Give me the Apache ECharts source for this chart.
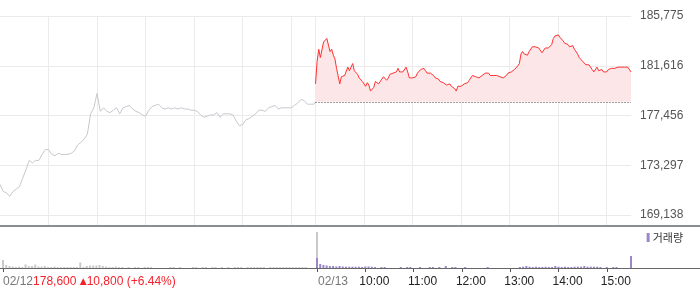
<!DOCTYPE html>
<html><head><meta charset="utf-8">
<script src="https://cdn.jsdelivr.net/npm/echarts@6/dist/echarts.min.js"></script>
<style>html,body{margin:0;padding:0;background:#fff}#c{width:700px;height:289px}</style>
</head><body><div id="c"></div>
<script>
// ---- data ----
const SESSION = 390;     // minutes from 09:00 to 15:30
const STEP1 = 4;         // 02/12 price sample spacing (minutes)
const STEP2 = 2;         // 02/13 price sample spacing (minutes)
const VOL_STEP = 4;      // volume sample spacing (minutes)
const day1Prices = [
171700,171100,171000,170700,171100,171300,171500,172200,172900,173700,
173500,173700,173700,174200,174600,174600,174200,174100,174300,174200,
174200,174200,174300,174500,175000,175200,175500,175900,177600,178100,
179300,177800,178100,177800,177700,177900,178100,177600,178100,178200,
178300,178000,177800,177700,177500,177400,177900,178200,178300,178400,
178100,178000,178100,178000,178100,178000,178100,178000,178000,177900,
177900,177800,177500,177300,177400,177500,177500,177700,177300,177600,
177600,177600,177500,177000,176600,176700,177100,177200,177400,177600,
177900,177900,177800,178100,178200,178300,178000,178100,178100,178100,
178100,178300,178500,178800,178700,178400,178400,178400,178600];
const day2Prices = [
180100,182000,183000,182300,182200,183600,183700,183900,184000,182800,
183000,182500,182200,181400,181300,180100,180700,180800,180800,180900,
181500,181200,181500,181800,181200,181100,180900,180600,180500,180300,
180400,179900,180200,180000,179500,179600,179800,180300,180400,180100,
180100,180500,180700,180600,180400,180600,180900,180900,181000,181100,
181100,181400,181100,181000,181100,181200,181500,181100,180600,180600,
180600,180600,180700,181000,181100,181300,181400,181400,181200,181000,
180900,181000,180900,180800,180600,180600,180500,180300,180300,180200,
180100,180000,180100,180100,179900,180000,179700,179500,179900,179900,
179900,180000,180100,180100,180200,180400,180600,180800,180700,180700,
180600,180600,180600,180800,180900,181000,181100,181000,180800,180700,
180800,180700,180800,180700,180700,180600,180600,180500,180800,181000,
181000,181100,181200,181300,181400,181600,181800,182600,182800,182600,
182600,182500,182800,182900,183200,183200,183200,183200,183100,183200,
182700,182600,183100,183200,183100,183100,183400,183900,184100,184200,
184200,184000,184000,183700,183500,183400,183400,183200,183300,183300,
183000,183100,182600,182300,182300,182000,182100,181700,181600,181700,
181800,181300,181100,181100,181500,181200,181300,181300,181100,181200,
181100,181300,181200,181400,181500,181400,181500,181500,181500,181500,
181500,181500,181500,181500,181500,181100];
const day1Volume = [
800,300,200,150,100,150,100,350,200,200,
350,150,150,200,100,100,150,100,100,100,
100,100,100,100,550,100,200,250,250,250,
300,200,150,100,100,150,100,100,0,100,
0,100,100,0,100,100,100,0,0,0,
0,0,100,100,0,100,0,0,0,100,
100,0,100,100,0,100,100,0,100,0,
100,0,100,100,100,0,100,100,100,100,
100,100,0,100,100,100,100,100,100,100,
100,100,100,100,100,0,0,0,3600];
const day2Volume = [
1000,400,300,250,200,200,150,200,150,130,
130,130,130,130,100,150,150,130,100,0,
100,100,0,0,0,0,100,0,100,100,
0,0,100,0,0,100,100,0,100,0,
200,0,100,100,0,0,100,0,0,0,
0,0,0,100,0,0,0,0,0,0,
0,0,0,100,130,200,130,100,130,100,
100,130,100,100,200,130,100,130,100,100,
130,130,130,200,130,130,130,130,100,0,
100,0,100,100,0,0,0,0,1200];
const prevClose = 178600;
const yMin = 169138, yMax = 185775, yTickStep = 4159.25;
const volMax = 4200;
const gridMinutes = [60,120,180,240,300,360,390,450,510,570,630,690,750];
const tickMinutes = [0,390,450,510,570,630,690,750];
const tickLabels = ['02/12','02/13','10:00','11:00','12:00','13:00','14:00','15:00'];
const dayInfoPrice = '178,600';
const dayInfoChange = '10,800 (+6.44%)';
const volumeName = '거래량';

// ---- build series ----
const minuteOf = (i, step, offset) => offset + Math.min(i * step, SESSION);
const p1 = day1Prices.map((v, i) => [minuteOf(i, STEP1, 0), v]);
const p2 = day2Prices.map((v, i) => [minuteOf(i, STEP2, SESSION), v]);
const v1 = day1Volume.map((v, i) => [minuteOf(i, VOL_STEP, 0), v]);
const v2 = day2Volume.map((v, i) => [minuteOf(i, VOL_STEP, SESSION), v]);

function fmtPrice(v) {
  let r = Math.round(v);
  if (Math.abs(v - Math.floor(v) - 0.5) < 1e-6 && r % 2 !== 0) r -= 1; // half-even
  return r.toLocaleString('en-US');
}

const GRID = '#ebebeb';
const FONT = '"Liberation Sans", Arial, sans-serif';
const chart = echarts.init(document.getElementById('c'), null, {renderer: 'canvas'});
chart.setOption({
  animation: false,
  textStyle: {fontFamily: FONT},
  grid: [
    {left: 0, width: 631, top: 16, height: 199},
    {left: 0, width: 631, top: 226, height: 42}
  ],
  legend: {
    data: [volumeName], right: 17, top: 232, padding: 0, icon: 'rect', itemWidth: 3, itemHeight: 9,
    textStyle: {fontSize: 11, color: '#333', fontFamily: '"Noto Sans CJK KR", sans-serif', padding: [0, 0, 0, -2]},
    selectedMode: false
  },
  xAxis: [
    {gridIndex: 0, type: 'value', min: 0, max: SESSION * 2,
     axisLine: {show: false}, axisLabel: {show: false},
     axisTick: {show: true, length: 10, lineStyle: {color: GRID}, customValues: gridMinutes},
     splitLine: {show: true, lineStyle: {color: GRID}, customValues: gridMinutes}},
    {gridIndex: 1, type: 'value', min: 0, max: SESSION * 2,
     axisLine: {show: false}, splitLine: {show: false},
     axisTick: {show: true, length: 4, lineStyle: {color: '#555'}, customValues: tickMinutes},
     axisLabel: {
       customValues: tickMinutes, margin: 8, alignMinLabel: 'left', fontSize: 12,
       formatter: v => {
         const k = tickMinutes.indexOf(v);
         if (k === 0) return '{d|' + tickLabels[0] + '}{r|' + dayInfoPrice + ' }{tri|▲}{r|' + dayInfoChange + '}';
         if (k === 1) return '{dd|' + tickLabels[1] + '}';
         return '{t|' + tickLabels[k] + '}';
       },
       rich: {
         d: {color: '#777', fontSize: 12, fontFamily: FONT},
         dd: {color: '#777', fontSize: 12, fontFamily: FONT, padding: [0, 0, 0, 32]},
         r: {color: '#f5222d', fontSize: 12, fontFamily: FONT},
         tri: {color: '#f5222d', fontSize: 9, fontFamily: '"DejaVu Sans", sans-serif'},
         t: {color: '#222', fontSize: 12, fontFamily: FONT, padding: [0, 0, 0, 18]}
       }
     }}
  ],
  yAxis: [
    {gridIndex: 0, type: 'value', position: 'right', min: yMin, max: yMax, interval: yTickStep,
     axisLine: {show: false}, axisTick: {show: false},
     axisLabel: {margin: 9, color: '#555', fontSize: 12, formatter: fmtPrice},
     splitLine: {lineStyle: {color: GRID}}},
    {gridIndex: 1, type: 'value', min: 0, max: volMax, show: false}
  ],
  series: [
    {type: 'line', name: '02/12', xAxisIndex: 0, yAxisIndex: 0, data: p1, symbol: 'none', silent: true,
     lineStyle: {color: '#c6c8ce', width: 1}},
    {type: 'line', name: '02/13', xAxisIndex: 0, yAxisIndex: 0, data: p2, symbol: 'none', silent: true,
     lineStyle: {color: '#ff3030', width: 1},
     areaStyle: {color: '#fde6e8', opacity: 1, origin: prevClose},
     markLine: {silent: true, symbol: ['none', 'none'], label: {show: false},
       lineStyle: {type: [1, 2], color: '#444', width: 1},
       data: [[{coord: [SESSION, prevClose]}, {coord: [SESSION * 2, prevClose]}]]}},
    {type: 'bar', name: 'vol1', xAxisIndex: 1, yAxisIndex: 1, data: v1, barWidth: 2, barGap: '-100%',
     itemStyle: {color: '#c9c9c9'}, silent: true},
    {type: 'bar', name: volumeName, xAxisIndex: 1, yAxisIndex: 1, data: v2, barWidth: 2, barGap: '-100%',
     itemStyle: {color: '#9a86c8'}, silent: true}
  ],
  graphic: [
    {type: 'line', silent: true, shape: {x1: 0, y1: 226, x2: 700, y2: 226}, style: {stroke: '#8a8d93', lineWidth: 2}, z: 10},
    {type: 'line', silent: true, shape: {x1: 0, y1: 268.5, x2: 700, y2: 268.5}, style: {stroke: '#666', lineWidth: 1}, z: 10}
  ]
});
</script></body></html>
